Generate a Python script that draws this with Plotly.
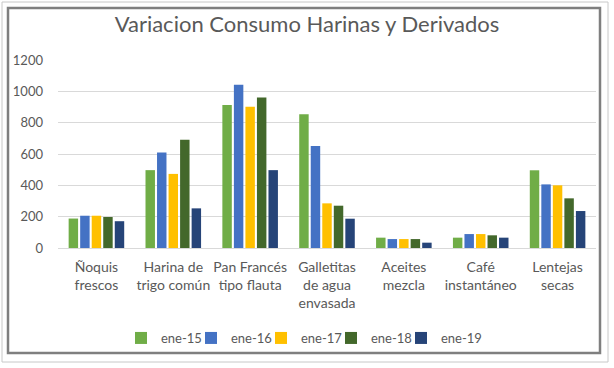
import plotly.graph_objects as go

categories = ["Ñoquis<br>frescos", "Harina de<br>trigo común", "Pan Francés<br>tipo flauta",
              "Galletitas<br>de agua<br>envasada", "Aceites<br>mezcla", "Café<br>instantáneo",
              "Lentejas<br>secas"]
series_names = ["ene-15", "ene-16", "ene-17", "ene-18", "ene-19"]
ene15 = [188, 497, 912, 853, 66, 66, 496]
ene16 = [206, 609, 1042, 651, 57, 89, 406]
ene17 = [206, 473, 902, 285, 57, 89, 400]
ene18 = [198, 691, 960, 270, 57, 81, 317]
ene19 = [171, 253, 497, 187, 34, 66, 236]
colors = ["#70AD47", "#4472C4", "#FFC000", "#43682B", "#264478"]
y_ticks = [0, 200, 400, 600, 800, 1000, 1200]

W, H = 614, 368
L, R, T, B = 58, 18, 60, 120
pw, ph = W - L - R, H - T - B

def px(x):
    return (x - L) / pw

def py(y):
    return (H - B - y) / ph

font_fam = "Lato, 'Open Sans', sans-serif"
txt = "#595959"

fig = go.Figure()
legend_layouts = {}
for i, (name, vals, col) in enumerate(zip(series_names, [ene15, ene16, ene17, ene18, ene19], colors)):
    lname = "legend" if i == 0 else f"legend{i + 1}"
    fig.add_trace(go.Bar(x=categories, y=vals, name=name, marker_color=col,
                         marker_line_width=0, legend=lname))
    legend_layouts[lname] = dict(
        orientation="h", x=px(141 + 70 * i - 20), xanchor="left", y=py(338), yanchor="middle",
        font=dict(family=font_fam, size=13, color=txt), itemwidth=30,
        bgcolor="rgba(0,0,0,0)", borderwidth=0)

fig.update_layout(
    width=W, height=H,
    margin=dict(l=L, r=R, t=T, b=B, pad=0),
    paper_bgcolor="white", plot_bgcolor="white",
    barmode="group", bargap=0.25, bargroupgap=0.18,
    title=dict(text="Variacion Consumo Harinas y Derivados", x=0.5, xanchor="center",
               y=1 - 24 / H, yanchor="middle",
               font=dict(family=font_fam, size=22, color=txt)),
    font=dict(family=font_fam, size=13, color=txt),
    showlegend=True,
    xaxis=dict(showgrid=False, showline=False, ticks="", tickfont=dict(size=14, color=txt),
               ticklabelstandoff=9, fixedrange=True),
    yaxis=dict(range=[0, 1200], tickvals=y_ticks, showgrid=True, gridcolor="#D9D9D9",
               gridwidth=1, zeroline=True, zerolinecolor="#D9D9D9", zerolinewidth=1,
               showline=False, ticks="", ticklabelstandoff=14, fixedrange=True,
               tickfont=dict(size=13, color=txt)),
    shapes=[
        dict(type="rect", xref="paper", yref="paper", x0=px(2), x1=px(608), y0=py(2), y1=py(362),
             line=dict(color="#C8C8C8", width=1), layer="below"),
        dict(type="rect", xref="paper", yref="paper", x0=px(8), x1=px(600), y0=py(8), y1=py(353),
             line=dict(color="#7F7F7F", width=2.5), layer="below"),
    ],
    **legend_layouts,
)

fig.write_html("out.html", config={"displayModeBar": False},
               post_script="document.body.style.margin='0';document.body.style.padding='0';")
